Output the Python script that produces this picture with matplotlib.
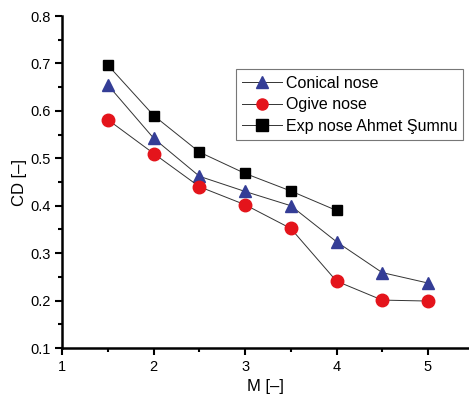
import matplotlib.pyplot as plt
from matplotlib.ticker import MultipleLocator

plt.rcParams['font.family'] = ['Liberation Sans', 'DejaVu Sans']

mach_conical = [1.5, 2, 2.5, 3, 3.5, 4, 4.5, 5]
cd_conical = [0.654, 0.542, 0.462, 0.430, 0.400, 0.324, 0.259, 0.237]

mach_ogive = [1.5, 2, 2.5, 3, 3.5, 4, 4.5, 5]
cd_ogive = [0.581, 0.510, 0.440, 0.402, 0.352, 0.241, 0.201, 0.199]

mach_exp = [1.5, 2, 2.5, 3, 3.5, 4]
cd_exp = [0.696, 0.590, 0.513, 0.468, 0.431, 0.390]

fig = plt.figure(figsize=(4.69, 4.0), dpi=100)
ax = fig.add_axes([0.133, 0.13, 0.867, 0.83])

line_kw = dict(color='#333333', linewidth=0.7)
ax.plot(mach_conical, cd_conical, marker='^', markersize=9, markerfacecolor='#343d96',
        markeredgecolor='#343d96', label='Conical nose', **line_kw)
ax.plot(mach_ogive, cd_ogive, marker='o', markersize=9, markerfacecolor='#e4141b',
        markeredgecolor='#e4141b', label='Ogive nose', **line_kw)
ax.plot(mach_exp, cd_exp, marker='s', markersize=7, markerfacecolor='black',
        markeredgecolor='black', label='Exp nose Ahmet \u015eumnu', **line_kw)

ax.set_xlim(1, 5.45)
ax.set_ylim(0.1, 0.8)
ax.xaxis.set_major_locator(MultipleLocator(1))
ax.xaxis.set_minor_locator(MultipleLocator(0.5))
ax.yaxis.set_major_locator(MultipleLocator(0.1))
ax.yaxis.set_minor_locator(MultipleLocator(0.05))

for side in ['top', 'right']:
    ax.spines[side].set_visible(False)
for side in ['left', 'bottom']:
    ax.spines[side].set_linewidth(1.8)

ax.tick_params(which='major', direction='out', length=5, width=1.5, labelsize=10.5)
ax.tick_params(which='minor', direction='out', length=3, width=1.5)

ax.set_xlabel('M [\u2013]', fontsize=12)
ax.set_ylabel('CD [\u2013]', fontsize=12, labelpad=2)

leg = ax.legend(loc='upper left', bbox_to_anchor=(0.427, 0.84), fontsize=11.5,
                fancybox=False, framealpha=1, edgecolor='#777777',
                handlelength=2.5, handletextpad=0.2, borderpad=0.4,
                labelspacing=0.42, borderaxespad=0)
leg.get_frame().set_linewidth(0.8)
for h in leg.legend_handles:
    h.set_markersize(8)

fig.savefig('out.png', dpi=100)
